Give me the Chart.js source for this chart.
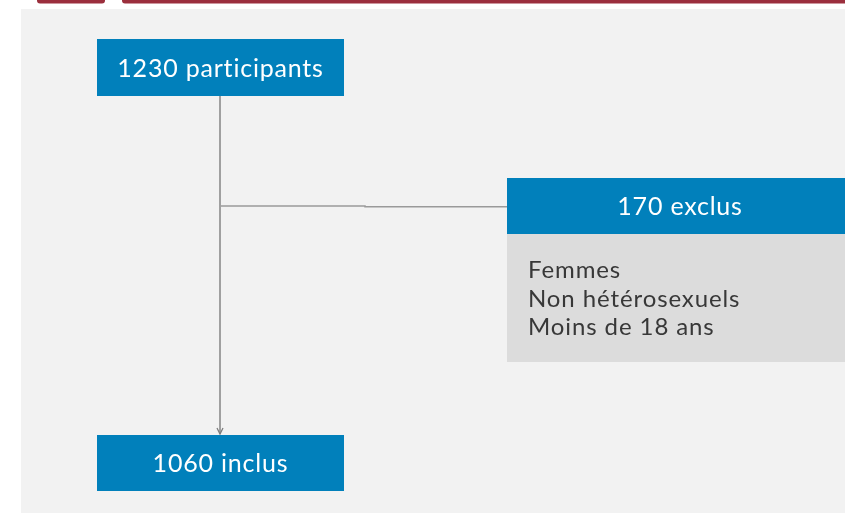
<!DOCTYPE html>
<html>
<head>
<meta charset="utf-8">
<script src="https://cdn.jsdelivr.net/npm/chart.js@4"></script>
<style>
  html, body { margin: 0; padding: 0; background: #ffffff; }
  canvas { display: block; }
</style>
</head>
<body>
<canvas id="flux" width="845" height="513"></canvas>
<script>
// Données du diagramme de flux
const effectifs = [1230, 170, 1060];
const libelles = ['participants', 'exclus', 'inclus'];
const motifsExclusion = ['Femmes', 'Non hétérosexuels', 'Moins de 18 ans'];

// Mise en page (unités = pixels de l'image)
const boites = [
  { x0: 97, x1: 344, y0: 39, y1: 96 },
  { x0: 507, x1: 853, y0: 178, y1: 234 },
  { x0: 97, x1: 344, y0: 435, y1: 491 }
];
const detailExclus = { x0: 507, x1: 853, y0: 234, y1: 362 };

const BLEU = '#0180bb';
const GRIS = '#dcdcdc';
const FOND = '#f2f2f2';
const ROUGE = '#9b2f3d';
const POLICE = 'Lato, "Open Sans", sans-serif';

const fondPlugin = {
  id: 'fond',
  beforeDraw(chart) {
    const { ctx } = chart;
    const sx = chart.scales.x, sy = chart.scales.y;
    const rect = (x0, y0, x1, y1, c) => {
      ctx.fillStyle = c;
      const px0 = sx.getPixelForValue(x0), px1 = sx.getPixelForValue(x1);
      const py0 = sy.getPixelForValue(y0), py1 = sy.getPixelForValue(y1);
      ctx.fillRect(px0, py0, px1 - px0, py1 - py0);
    };
    ctx.save();
    rect(0, 0, 845, 513, '#ffffff');
    rect(21, 9, 845, 513, FOND);
    // bandeau rouge en haut
    ctx.fillStyle = ROUGE;
    ctx.beginPath();
    ctx.roundRect(sx.getPixelForValue(37), -4, sx.getPixelForValue(105) - sx.getPixelForValue(37), 7.5, 3);
    ctx.fill();
    ctx.beginPath();
    ctx.roundRect(sx.getPixelForValue(122), -4, 845 - sx.getPixelForValue(122) + 4, 7.5, 3);
    ctx.fill();
    ctx.restore();
  }
};

const boitesPlugin = {
  id: 'boites',
  afterDatasetsDraw(chart) {
    const { ctx } = chart;
    const sx = chart.scales.x, sy = chart.scales.y;
    ctx.save();
    const box = (b, c) => {
      const px0 = sx.getPixelForValue(b.x0), px1 = sx.getPixelForValue(b.x1);
      const py0 = sy.getPixelForValue(b.y0), py1 = sy.getPixelForValue(b.y1);
      ctx.fillStyle = c;
      ctx.fillRect(px0, py0, px1 - px0, py1 - py0);
      return { cx: (px0 + px1) / 2, cy: (py0 + py1) / 2, px0, py0 };
    };
    // détail des exclusions
    const d = box(detailExclus, GRIS);
    ctx.fillStyle = '#383838';
    ctx.font = '400 24px ' + POLICE;
    ctx.letterSpacing = '0.9px';
    ctx.textAlign = 'left';
    ctx.textBaseline = 'alphabetic';
    motifsExclusion.forEach((m, i) => {
      ctx.fillText(m, d.px0 + 21, d.py0 + 44 + i * 28.5);
    });
    // boîtes bleues
    ctx.font = '400 25px ' + POLICE;
    ctx.letterSpacing = '0.8px';
    ctx.textAlign = 'center';
    boites.forEach((b, i) => {
      const r = box(b, BLEU);
      ctx.fillStyle = '#ffffff';
      const cx = i === 1 ? sx.getPixelForValue(680) : r.cx;
      ctx.fillText(`${effectifs[i]} ${libelles[i]}`, cx, r.cy + 9);
    });
    ctx.letterSpacing = '0px';
    // pointe de flèche
    const ax = sx.getPixelForValue(220), ay = sy.getPixelForValue(434);
    ctx.strokeStyle = '#7d7d7d';
    ctx.lineWidth = 1.3;
    ctx.beginPath();
    ctx.moveTo(ax - 3, ay - 6);
    ctx.lineTo(ax, ay);
    ctx.lineTo(ax + 3, ay - 6);
    ctx.stroke();
    ctx.restore();
  }
};

new Chart(document.querySelector('#flux'), {
  type: 'scatter',
  data: {
    datasets: [
      {
        // tronc vertical
        data: [{ x: 220, y: 96 }, { x: 220, y: 434 }],
        showLine: true,
        borderColor: '#858585',
        borderWidth: 1.5,
        pointRadius: 0
      },
      {
        // branche vers les exclus
        data: [{ x: 221, y: 206 }, { x: 365, y: 206 }, { x: 365, y: 206.7 }, { x: 507, y: 206.7 }],
        showLine: true,
        borderColor: '#9a9a9a',
        borderWidth: 1.5,
        pointRadius: 0
      }
    ]
  },
  options: {
    responsive: false,
    animation: false,
    layout: { padding: 0 },
    plugins: { legend: { display: false }, tooltip: { enabled: false } },
    scales: {
      x: { type: 'linear', min: 0, max: 845, display: false },
      y: { type: 'linear', min: 0, max: 513, reverse: true, display: false }
    }
  },
  plugins: [fondPlugin, boitesPlugin]
});
</script>
</body>
</html>
